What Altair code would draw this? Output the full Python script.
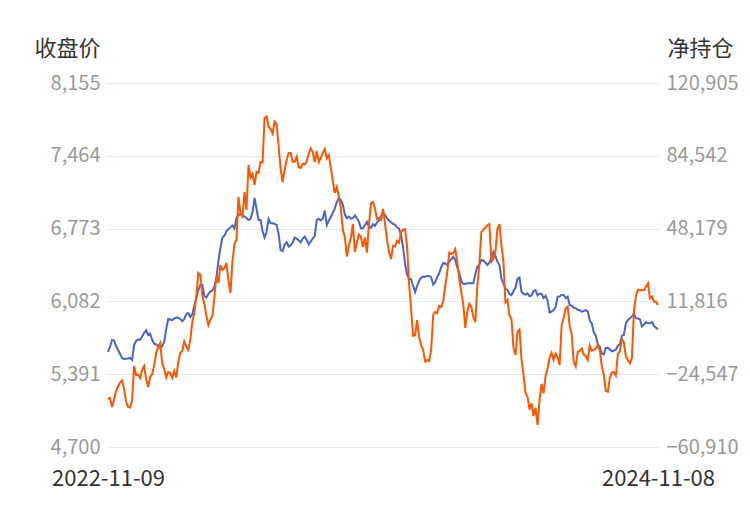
import altair as alt
import pandas as pd

start_date = "2022-11-09"
end_date = "2024-11-08"

close_price = [
    5604, 5652, 5716, 5711, 5659, 5621, 5583, 5545, 5535, 5537, 5540, 5545, 5526, 5668, 5706, 5721, 5716, 5749, 5782, 5808,
    5763, 5776, 5716, 5681, 5673, 5659, 5640, 5659, 5697, 5820, 5915, 5910, 5905, 5920, 5929, 5927, 5915, 5893, 5915, 5963,
    5972, 5934, 5962, 6038, 6114, 6190, 6238, 6238, 6133, 6119, 6152, 6176, 6185, 6219, 6304, 6465, 6589, 6688, 6707, 6748,
    6769, 6785, 6802, 6774, 6874, 6902, 6913, 6898, 6888, 6874, 6855, 6865, 6931, 7063, 6959, 6856, 6855, 6750, 6688, 6741,
    6864, 6823, 6823, 6818, 6807, 6722, 6570, 6560, 6622, 6643, 6603, 6613, 6641, 6687, 6679, 6662, 6643, 6679, 6698, 6665,
    6622, 6650, 6679, 6703, 6855, 6867, 6850, 6869, 6945, 6807, 6848, 6883, 6924, 6965, 7025, 7063, 7044, 7001, 6906, 6871,
    6887, 6867, 6872, 6897, 6871, 6838, 6776, 6776, 6807, 6838, 6785, 6781, 6815, 6798, 6833, 6851, 6890, 6922, 6902, 6871,
    6848, 6833, 6817, 6809, 6786, 6772, 6709, 6595, 6437, 6333, 6297, 6291, 6231, 6171, 6230, 6276, 6308, 6316, 6316, 6324,
    6323, 6311, 6242, 6264, 6314, 6349, 6408, 6445, 6442, 6427, 6463, 6482, 6506, 6475, 6404, 6352, 6276, 6249, 6247, 6254,
    6254, 6254, 6254, 6344, 6412, 6433, 6473, 6470, 6450, 6427, 6453, 6488, 6551, 6515, 6461, 6427, 6297, 6250, 6202, 6190,
    6152, 6141, 6179, 6213, 6295, 6309, 6173, 6154, 6147, 6158, 6130, 6139, 6183, 6188, 6138, 6156, 6154, 6114, 6135, 6089,
    5977, 5986, 6000, 6029, 6126, 6128, 6143, 6143, 6111, 6127, 6049, 6041, 6022, 6018, 6003, 5998, 5984, 5991, 5999, 5988,
    5899, 5873, 5791, 5758, 5674, 5653, 5588, 5579, 5640, 5641, 5627, 5608, 5615, 5623, 5659, 5675, 5754, 5765, 5875, 5905,
    5921, 5939, 5966, 5923, 5920, 5912, 5844, 5861, 5886, 5874, 5874, 5886, 5850, 5833, 5817,
]

net_position = [
    -36937, -36438, -40933, -37437, -32941, -30693, -28695, -27696, -31942, -38186,
    -40933, -41183, -37437, -20454, -24949, -24949, -26448, -22452, -20454, -26947,
    -30943, -25948, -24450, -20204, -13960, -10963, -8965, -18955, -21952, -26198,
    -23451, -23950, -26448, -22951, -26198, -18456, -13960, -12961, -8216, -10713,
    -12462, -7467, 1524, 6020, 14511, 26000, 25001, 14511, 10515, 4771,
    26, 2773, 4521, 14012, 24501, 21005, 29996, 27498, 28497, 30995,
    22503, 16010, 31494, 40735, 42483, 63962, 55970, 54222, 66459, 57468,
    79946, 73702, 75450, 69956, 76449, 75950, 81444, 81195, 103422, 104172,
    99177, 97928, 95680, 101624, 100425, 89436, 77948, 71454, 77448, 82344,
    85940, 85940, 81594, 81594, 84092, 78797, 78447, 80545, 80196, 81944,
    85440, 88338, 86439, 81444, 86939, 81444, 83442, 86140, 87938, 83293,
    84941, 78447, 71954, 65960, 68957, 64212, 58467, 47478, 43982, 34242,
    39686, 43482, 50475, 36489, 41235, 45131, 43982, 38987, 43732, 36190,
    50475, 60765, 61464, 58218, 52973, 53472, 52473, 57968, 50825, 42483,
    36489, 32993, 39486, 39287, 42184, 41185, 46479, 47678, 47978, 39137,
    20505, 8018, -5319, -5119, 2523, -5968, -9964, -12462, -18206, -17457,
    -17956, -12462, 5021, 6519, 6020, 9616, 9017, 11914, 19506, 26200,
    36140, 35490, 35990, 37888, 31494, 23003, 16509, 10366, -1473, 6669,
    10515, 9017, 4172, 1475, 19706, 30296, 46479, 47778, 48627, 49876,
    50475, 31644, 32993, 36589, 47978, 50475, 39986, 31744, 11215, 12513,
    4771, 3023, -11413, -14959, -3371, -2222, -16957, -24749, -33940, -35788,
    -42182, -39085, -45429, -41333, -49924, -37337, -29445, -34090, -25449, -21602,
    -16208, -13860, -17457, -14210, -15958, -19954, 126, 3522, 8218, 9167,
    -673, -4470, -18456, -20703, -13461, -12961, -11612, -14759, -15459, -17457,
    -10264, -12761, -12362, -11762, -9964, -12661, -20454, -24799, -32941, -33291,
    -26298, -23650, -23451, -25199, -14460, -13111, -6967, -8615, -15758, -17457,
    -19155, -16458, 6819, 14511, 17508, 17309, 17508, 17508, 19207, 20855,
    13363, 14312, 11664, 11664, 10016,
]

left_ticks = [4700, 5391, 6082, 6773, 7464, 8155]
right_ticks = [-60910, -24547, 11816, 48179, 84542, 120905]

dates = pd.date_range(start_date, end_date, periods=len(close_price))
df = pd.DataFrame({
    "date": dates.strftime("%Y-%m-%dT%H:%M:%S"),
    "close": close_price,
    "net": net_position,
})

FONT = "Noto Sans CJK SC"

x_enc = alt.X(
    "date:T",
    axis=alt.Axis(
        values=[alt.DateTime(year=2022, month=11, date=9),
                alt.DateTime(year=2024, month=11, date=8)],
        format="%Y-%m-%d",
        title=None,
        grid=False,
        ticks=False,
        domain=False,
        labelFlush=False,
        labelOverlap=False,
        labelAlign="center",
        labelFontSize=22,
        labelColor="#333333",
        labelPadding=21,
    ),
)

blue = alt.Chart(df).mark_line(color="#4a63c8", strokeWidth=2).encode(
    x=x_enc,
    y=alt.Y(
        "close:Q",
        scale=alt.Scale(domain=[4700, 8155], nice=False, zero=False),
        axis=alt.Axis(
            values=left_ticks,
            format=",d",
            title="收盘价",
            titleAngle=0,
            titleAlign="right",
            titleBaseline="middle",
            titleX=-8,
            titleY=-35,
            titleFontSize=22,
            titleFontWeight="normal",
            titleColor="#333333",
            labelColor="#999999",
            labelFontSize=20,
            labelPadding=8,
            ticks=False,
            domain=False,
            grid=True,
            gridColor="#e4e8f1",
            gridWidth=1,
            orient="left",
        ),
    ),
)

orange = alt.Chart(df).mark_line(color="#ff5500", strokeWidth=2).encode(
    x=x_enc,
    y=alt.Y(
        "net:Q",
        scale=alt.Scale(domain=[-60910, 120905], nice=False, zero=False),
        axis=alt.Axis(
            values=right_ticks,
            format=",d",
            title="净持仓",
            titleAngle=0,
            titleAlign="left",
            titleBaseline="middle",
            titleX=9,
            titleY=-35,
            titleFontSize=22,
            titleFontWeight="normal",
            titleColor="#333333",
            labelColor="#999999",
            labelFontSize=20,
            labelPadding=8,
            ticks=False,
            domain=False,
            grid=False,
            orient="right",
        ),
    ),
)

chart = (
    alt.layer(blue, orange)
    .resolve_scale(y="independent")
    .properties(
        width=550,
        height=364,
        autosize=alt.AutoSizeParams(type="none"),
        padding={"left": 100, "top": 75, "right": 80, "bottom": 50},
    )
    .configure(font=FONT)
    .configure_view(stroke=None)
)

chart.save("out.html", embed_options={"renderer": "svg", "actions": False})
